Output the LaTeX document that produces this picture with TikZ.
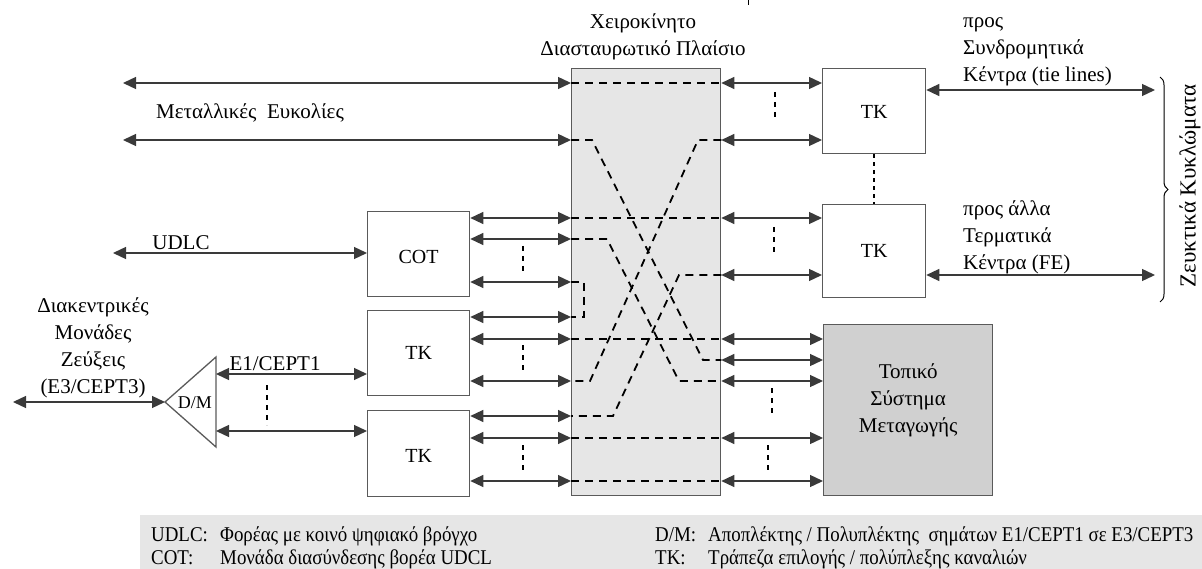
\documentclass[tikz,border=0pt]{standalone}
\usepackage{fontspec}
\setmainfont{Liberation Serif}
\newfontfamily\legendfont[FakeStretch=0.9]{Liberation Serif}
\usetikzlibrary{arrows.meta,decorations.pathreplacing,calc}

\definecolor{panelgray}{HTML}{E6E6E6}
\definecolor{localgray}{HTML}{D0D0D0}
\definecolor{wiregray}{HTML}{3A3A3A}
\definecolor{edgegray}{HTML}{5A5A5A}

\tikzset{
  unit/.style={draw=edgegray, line width=1.3pt, fill=white, inner sep=0pt, anchor=north west},
  link/.style={draw=wiregray, line width=1.3pt,
    {Triangle[length=13pt,width=12pt]}-{Triangle[length=13pt,width=12pt]}},
  route/.style={draw=black, line width=1.8pt, dash pattern=on 8pt off 6pt},
  moredots/.style={draw=black, line width=2.8pt, dash pattern=on 5pt off 5pt},
  txt/.style={font=\fontsize{21}{27}\selectfont, align=center, inner sep=0pt},
  unittxt/.style={font=\fontsize{20}{24}\selectfont, inner sep=0pt},
  legtxt/.style={font=\legendfont\fontsize{21}{25}\selectfont, inner sep=0pt, anchor=base west}
}

\begin{document}
\begin{tikzpicture}[x=1pt,y=-1pt]
\useasboundingbox (0,0) rectangle (1202,569);

% legend band
\fill[panelgray] (140,515) rectangle (1202,569);

% small mark at the top edge
\draw[line width=0.8pt] (748,0) -- (748,5);

% manual cross-connect frame
\node[unit, fill=panelgray, minimum width=149pt, minimum height=427pt] (xc) at (571,68) {};
\node[txt] (xctitle) at (643,37) {Χειροκίνητο\\Διασταυρωτικό Πλαίσιο};

% left-hand units
\node[unit, minimum width=102pt, minimum height=85pt] (cot) at (367,211) {};
\node[unittxt] at ($(cot.center)+(0,3)$) {COT};
\node[unit, minimum width=102pt, minimum height=85pt] (tk1) at (367,310) {};
\node[unittxt] at (tk1.center) {TK};
\node[unit, minimum width=102pt, minimum height=86pt] (tk2) at (367,410) {};
\node[unittxt] at ($(tk2.center)+(0,2)$) {TK};

% right-hand units
\node[unit, minimum width=103pt, minimum height=85pt] (tka) at (822,68) {};
\node[unittxt] at ($(tka.center)+(0,1)$) {TK};
\node[unit, minimum width=103pt, minimum height=93pt] (tkb) at (822,204) {};
\node[unittxt] at (tkb.center) {TK};
\node[unit, fill=localgray, minimum width=169pt, minimum height=171pt] (loc) at (823,324) {};
\node[txt] at ($(loc.center)+(0,-10)$) {Τοπικό\\Σύστημα\\Μεταγωγής};

% demultiplexer / multiplexer
\coordinate (dmtip) at (165,402);
\coordinate (dmtop) at (216,357);
\coordinate (dmbot) at (216,447);
\draw[edgegray, line width=1.3pt] (dmtip) -- (dmtop) -- (dmbot) -- cycle;
\node[font=\fontsize{18}{22}\selectfont, inner sep=0pt] (dmlbl) at (195,403) {D/M};

% metallic facilities
\coordinate (m1) at (123,83);
\coordinate (m2) at (123,140);
\draw[link] (m1) -- (xc.west |- m1);
\draw[link] (m2) -- (xc.west |- m2);
\node[txt] (metlbl) at (250,113) {Μεταλλικές\ \ Ευκολίες};

% UDLC
\coordinate (ud) at (113,253);
\draw[link] (ud) -- (cot.west |- ud);
\node[txt] (udlbl) at (181,243) {UDLC};

% trunk side
\coordinate (e3) at (13,402);
\draw[link] (e3) -- (dmtip);
\node[txt] (e3lbl) at (93,348) {Διακεντρικές\\Μονάδες\\Ζεύξεις\\(E3/CEPT3)};
\draw[link] (dmtop |- 0,374) -- (tk1.west |- 0,374);
\draw[link] (dmtop |- 0,431) -- (tk2.west |- 0,431);
\node[txt] (e1lbl) at (275,364) {E1/CEPT1};
\draw[moredots] (267,385) -- (267,425);

% units to frame
\foreach \y in {218,239,282}{ \draw[link] (cot.east |- 0,\y) -- (xc.west |- 0,\y); }
\foreach \y in {317,339,381}{ \draw[link] (tk1.east |- 0,\y) -- (xc.west |- 0,\y); }
\foreach \y in {416,438,481}{ \draw[link] (tk2.east |- 0,\y) -- (xc.west |- 0,\y); }
\draw[moredots] (523,246) -- (523,272);
\draw[moredots] (523,345) -- (523,373);
\draw[moredots] (523,445) -- (523,472);

% frame to right-hand units
\foreach \y in {83,140}{ \draw[link] (xc.east |- 0,\y) -- (tka.west |- 0,\y); }
\foreach \y in {218,275}{ \draw[link] (xc.east |- 0,\y) -- (tkb.west |- 0,\y); }
\foreach \y in {339,360,381,438,481}{ \draw[link] (xc.east |- 0,\y) -- (loc.west |- 0,\y); }
\draw[moredots] (775,92) -- (775,120);
\draw[moredots] (774,227) -- (774,255);
\draw[moredots] (772,388) -- (772,417);
\draw[moredots] (768,445) -- (768,473);
\draw[black, line width=2.4pt, dash pattern=on 4pt off 4pt] (tka.south) -- (tkb.north);

% jumpers inside the frame
\draw[route] (xc.west |- 0,83) -- (xc.east |- 0,83);
\draw[route] (xc.west |- 0,140) -- (592,140) -- (703,360) -- (xc.east |- 0,360);
\draw[route] (xc.west |- 0,218) -- (xc.east |- 0,218);
\draw[route] (xc.west |- 0,239) -- (607,239) -- (679,381) -- (xc.east |- 0,381);
\draw[route] (xc.west |- 0,282) -- (584,282) -- (584,317) -- (xc.west |- 0,317);
\draw[route] (xc.west |- 0,339) -- (xc.east |- 0,339);
\draw[route] (xc.east |- 0,140) -- (698,140) -- (590,381) -- (xc.west |- 0,381);
\draw[route] (xc.east |- 0,275) -- (679,275) -- (613,416) -- (xc.west |- 0,416);
\draw[route] (xc.west |- 0,438) -- (xc.east |- 0,438);
\draw[route] (xc.west |- 0,481) -- (xc.east |- 0,481);

% outgoing trunks
\coordinate (tie) at (1155,90);
\coordinate (fe) at (1155,275);
\draw[link] (tka.east |- tie) -- (tie);
\draw[link] (tkb.east |- fe) -- (fe);
\node[txt, align=left, anchor=west] (tielbl) at (963,52) {προς\\Συνδρομητικά\\Κέντρα (tie lines)};
\node[txt, align=left, anchor=west] (felbl) at (963,237) {προς άλλα\\Τερματικά\\Κέντρα (FE)};

% trunk circuits brace
\draw[decorate, decoration={brace, amplitude=8pt}, line width=1pt] (1160,77) -- (1160,302);
\node[txt, font=\fontsize{23}{27}\selectfont, rotate=90] (trunklbl) at (1190,186) {Ζευκτικά Κυκλώματα};

% legend
\node[legtxt] at (151,541) {UDLC:};
\node[legtxt] at (220,541) {Φορέας με κοινό ψηφιακό βρόγχο};
\node[legtxt] at (151,564) {COT:};
\node[legtxt] at (220,564) {Μονάδα διασύνδεσης βορέα UDCL};
\node[legtxt] at (655,541) {D/M:};
\node[legtxt] at (708,541) {Αποπλέκτης / Πολυπλέκτης\ \ σημάτων E1/CEPT1 σε E3/CEPT3};
\node[legtxt] at (655,564) {TK:};
\node[legtxt] at (708,564) {Τράπεζα επιλογής / πολύπλεξης καναλιών};
\end{tikzpicture}
\end{document}
